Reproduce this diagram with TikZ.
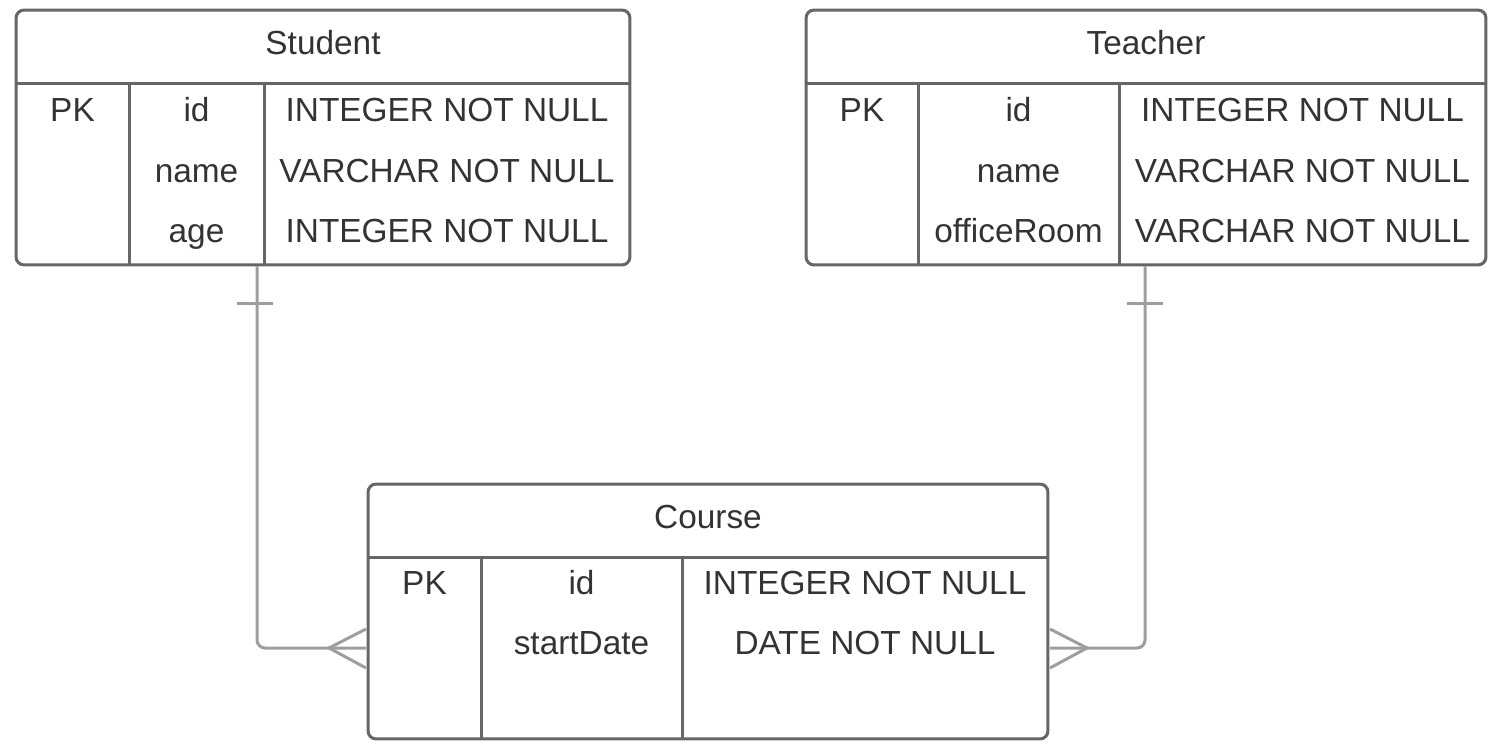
\documentclass[tikz,border=0pt]{standalone}
\usepackage{fontspec}
\setmainfont{Liberation Sans}
\usetikzlibrary{positioning}
\definecolor{erFrame}{RGB}{102,102,102}
\definecolor{erLink}{RGB}{158,158,158}
\definecolor{erText}{RGB}{51,51,51}

\begin{document}
\begin{tikzpicture}[x=0.02cm, y=-0.02cm, line width=0.06cm,
    font=\fontsize{19}{22}\selectfont,
    tbl/.style={draw=erFrame, rounded corners=0.16cm, minimum height=5.1cm, inner sep=0pt},
    cell/.style={text=erText, inner sep=0pt, text height=0.716em, text depth=0pt, yshift=-0.1cm},
    rule/.style={draw=erFrame},
    link/.style={draw=erLink}]
    \useasboundingbox (0,0) rectangle (1498,746);
    % student
    \node[tbl, minimum width=12.28cm] (student) at (323,137.5) {};
    \draw[rule] (16,84) -- (630,84);
    \draw[rule] (129,84) -- (129,84 |- student.south);
    \draw[rule] (264,84) -- (264,84 |- student.south);
    \node[cell] (stuHead) at (323,43) {Student};
    \node[cell] (stuPK) at (72.5,110) {PK};
    \node[cell] (stuId) at (196.5,110) {id};
    \node[cell] (stuName) at (196.5,171) {name};
    \node[cell] (stuAge) at (196.5,231) {age};
    \node[cell] (stuIdT) at (447,110) {INTEGER NOT NULL};
    \node[cell] (stuNameT) at (447,171) {VARCHAR NOT NULL};
    \node[cell] (stuAgeT) at (447,231) {INTEGER NOT NULL};
    % teacher
    \node[tbl, minimum width=13.6cm] (teacher) at (1146,137.5) {};
    \draw[rule] (806,84) -- (1486,84);
    \draw[rule] (918,84) -- (918,84 |- teacher.south);
    \draw[rule] (1119,84) -- (1119,84 |- teacher.south);
    \node[cell] (teaHead) at (1146,43) {Teacher};
    \node[cell] (teaPK) at (862,110) {PK};
    \node[cell] (teaId) at (1018.5,110) {id};
    \node[cell] (teaName) at (1018.5,171) {name};
    \node[cell] (teaRoom) at (1018.5,231) {officeRoom};
    \node[cell] (teaIdT) at (1302.5,110) {INTEGER NOT NULL};
    \node[cell] (teaNameT) at (1302.5,171) {VARCHAR NOT NULL};
    \node[cell] (teaRoomT) at (1302.5,231) {VARCHAR NOT NULL};
    % course
    \node[tbl, minimum width=13.6cm] (course) at (708,611.5) {};
    \draw[rule] (368,557) -- (1048,557);
    \draw[rule] (481,557) -- (481,557 |- course.south);
    \draw[rule] (682,557) -- (682,557 |- course.south);
    \node[cell] (crsHead) at (708,517) {Course};
    \node[cell] (crsPK) at (424.5,583) {PK};
    \node[cell] (crsId) at (581.5,583) {id};
    \node[cell] (crsStart) at (581.5,643) {startDate};
    \node[cell] (crsIdT) at (865,583) {INTEGER NOT NULL};
    \node[cell] (crsStartT) at (865,643) {DATE NOT NULL};
    % student -- course
    \coordinate (stuLink) at (257,265 |- student.south);
    \coordinate (crsLinkL) at (366,648);
    \coordinate (stuFoot) at (329,648);
    \draw[link, rounded corners=0.16cm] (stuLink) |- (crsLinkL);
    \draw[link] (237,304) -- (273,304);
    \draw[link] (366,629) -- (stuFoot) -- (366,668);
    % teacher -- course
    \coordinate (teaLink) at (1145,265 |- teacher.south);
    \coordinate (crsLinkR) at (1050,648);
    \coordinate (teaFoot) at (1087,648);
    \draw[link, rounded corners=0.16cm] (teaLink) |- (crsLinkR);
    \draw[link] (1127,304) -- (1163,304);
    \draw[link] (1050,629) -- (teaFoot) -- (1050,668);
\end{tikzpicture}
\end{document}
